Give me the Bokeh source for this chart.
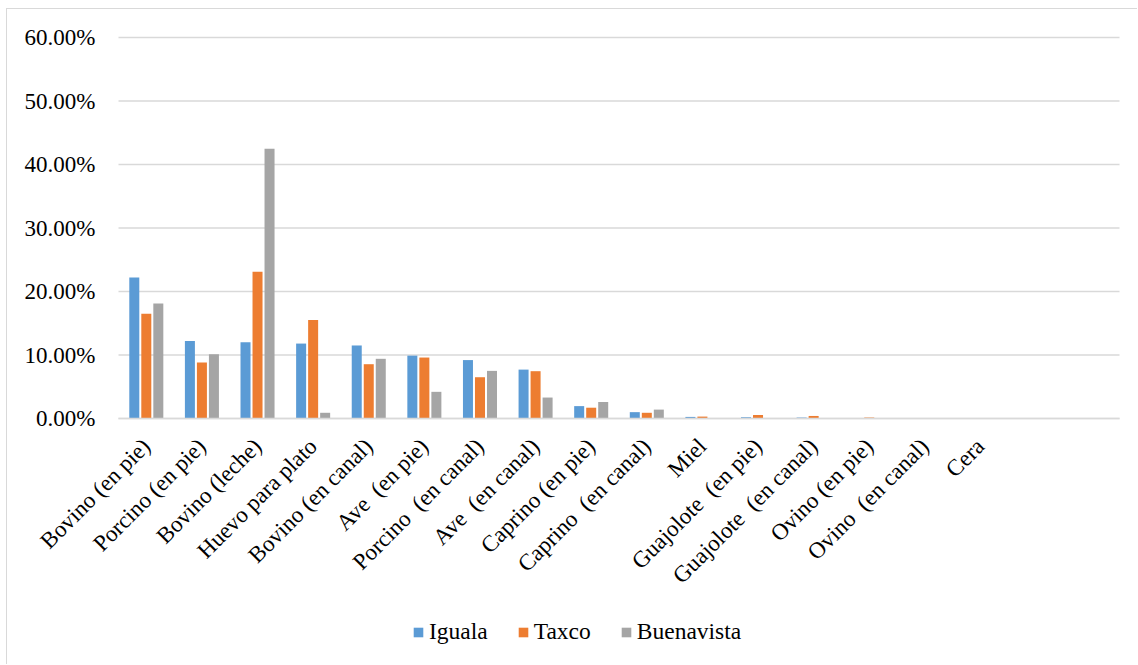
from bokeh.plotting import figure
from bokeh.models import ColumnDataSource, Range1d, Legend, LegendItem, PrintfTickFormatter, FixedTicker
from bokeh.transform import dodge
from bokeh.embed import file_html
from bokeh.resources import INLINE

NB = "\u00a0"  # espacio fijo para conservar los dobles espacios en SVG

# Productos pecuarios (las dos últimas posiciones del eje quedan vacías)
categories = [
    "Bovino (en pie)", "Porcino (en pie)", "Bovino (leche)", "Huevo para plato",
    "Bovino (en canal)", f"Ave{NB} (en pie)", f"Porcino{NB} (en canal)", f"Ave{NB} (en canal)",
    "Caprino (en pie)", f"Caprino{NB} (en canal)", "Miel", f"Guajolote{NB} (en pie)",
    f"Guajolote{NB} (en canal)", "Ovino (en pie)", f"Ovino{NB} (en canal)", "Cera", "", "",
]

# Participación (%) por municipio
iguala = [22.2, 12.2, 12.0, 11.8, 11.5, 9.9, 9.2, 7.7, 1.95, 1.0, 0.25, 0.2, 0.15, 0.05, 0.0, 0.0, 0.0, 0.0]
taxco = [16.5, 8.8, 23.1, 15.5, 8.55, 9.6, 6.5, 7.45, 1.7, 0.9, 0.3, 0.55, 0.4, 0.15, 0.0, 0.0, 0.0, 0.0]
buenavista = [18.1, 10.1, 42.5, 0.9, 9.4, 4.2, 7.5, 3.3, 2.6, 1.4, 0.05, 0.0, 0.0, 0.0, 0.0, 0.0, 0.0, 0.0]

y_ticks = [0, 10, 20, 30, 40, 50, 60]

series = ["Iguala", "Taxco", "Buenavista"]
colors = ["#5B9BD5", "#ED7D31", "#A5A5A5"]

FONT = "Liberation Serif"
FS = "23px"
GRID = "#D9D9D9"

# Geometría (px): el área de dibujo ocupa todo el lienzo; los ejes se fijan
# en x = -0.5 y en y = 0, y alrededor queda sitio para etiquetas y leyenda.
W, H = 1131, 656
PLOT_LEFT, PLOT_W = 111, 1001      # zona de las barras dentro del lienzo
BASE_Y, PLOT_H = 409, 381          # línea base y altura hasta el 60 %
n = len(categories)
px_cat = PLOT_W / n
px_unit = PLOT_H / y_ticks[-1]
x_start = -0.5 - PLOT_LEFT / px_cat
x_end = x_start + W / px_cat
y_end = BASE_Y / px_unit
y_start = y_end - H / px_unit

idx = list(range(n))
source = ColumnDataSource(dict(idx=idx, Iguala=iguala, Taxco=taxco, Buenavista=buenavista))

p = figure(
    x_range=Range1d(x_start, x_end),
    y_range=Range1d(y_start, y_end),
    width=W, height=H,
    min_border_left=0, min_border_right=0, min_border_top=0, min_border_bottom=0,
    output_backend="svg", toolbar_location=None,
)
p.styles = {
    "margin-left": "6px", "margin-top": "8px",
    "border-top": f"1px solid {GRID}", "border-left": f"1px solid {GRID}",
}
p.outline_line_color = None
p.xgrid.visible = False
p.ygrid.visible = False

# Líneas horizontales de referencia, sólo sobre la zona de las barras
p.segment(x0=[-0.5] * len(y_ticks), x1=[n - 0.5] * len(y_ticks), y0=y_ticks, y1=y_ticks,
          line_color=GRID, line_width=1.5)

# Barras agrupadas: un desplazamiento por serie dentro de cada categoría
offsets = [-0.216, 0.0, 0.216]
renderers = []
for name, col, off in zip(series, colors, offsets):
    r = p.vbar(x=dodge("idx", off), top=name, width=0.18, source=source,
               fill_color=col, line_color=None)
    renderers.append(r)

# Eje Y fijo en el borde izquierdo de la zona de barras
p.yaxis.fixed_location = -0.5
p.yaxis.ticker = FixedTicker(ticks=y_ticks)
p.yaxis.formatter = PrintfTickFormatter(format="%.2f%%")
p.yaxis.axis_line_color = None
p.yaxis.major_tick_line_color = None
p.yaxis.minor_tick_line_color = None
p.yaxis.major_tick_out = 0
p.yaxis.major_tick_in = 0
p.yaxis.major_label_standoff = 23
p.yaxis.major_label_text_font = FONT
p.yaxis.major_label_text_font_size = FS
p.yaxis.major_label_text_color = "#000000"

# Eje X fijo en la línea base, etiquetas giradas 45°
p.xaxis.fixed_location = 0
p.xaxis.bounds = (-0.5, n - 0.5)
p.xaxis.ticker = FixedTicker(ticks=[i for i, c in enumerate(categories) if c])
p.xaxis.major_label_overrides = {i: c for i, c in enumerate(categories) if c}
p.xaxis.axis_line_color = GRID
p.xaxis.axis_line_width = 1.5
p.xaxis.major_tick_line_color = None
p.xaxis.minor_tick_line_color = None
p.xaxis.major_tick_out = 0
p.xaxis.major_tick_in = 0
p.xaxis.major_label_orientation = 0.7854
p.xaxis.major_label_standoff = 24
p.xaxis.major_label_text_font = FONT
p.xaxis.major_label_text_font_size = FS
p.xaxis.major_label_text_color = "#000000"

legend = Legend(
    items=[LegendItem(label=s, renderers=[r]) for s, r in zip(series, renderers)],
    orientation="horizontal", location=(405, 20),
    label_text_font=FONT, label_text_font_size="23.5px", label_text_color="#000000",
    glyph_width=12, glyph_height=12, label_standoff=5, spacing=29,
    border_line_color=None, background_fill_alpha=0, margin=0, padding=0,
)
p.add_layout(legend, "center")

open("out.html", "w").write(file_html(p, INLINE))
